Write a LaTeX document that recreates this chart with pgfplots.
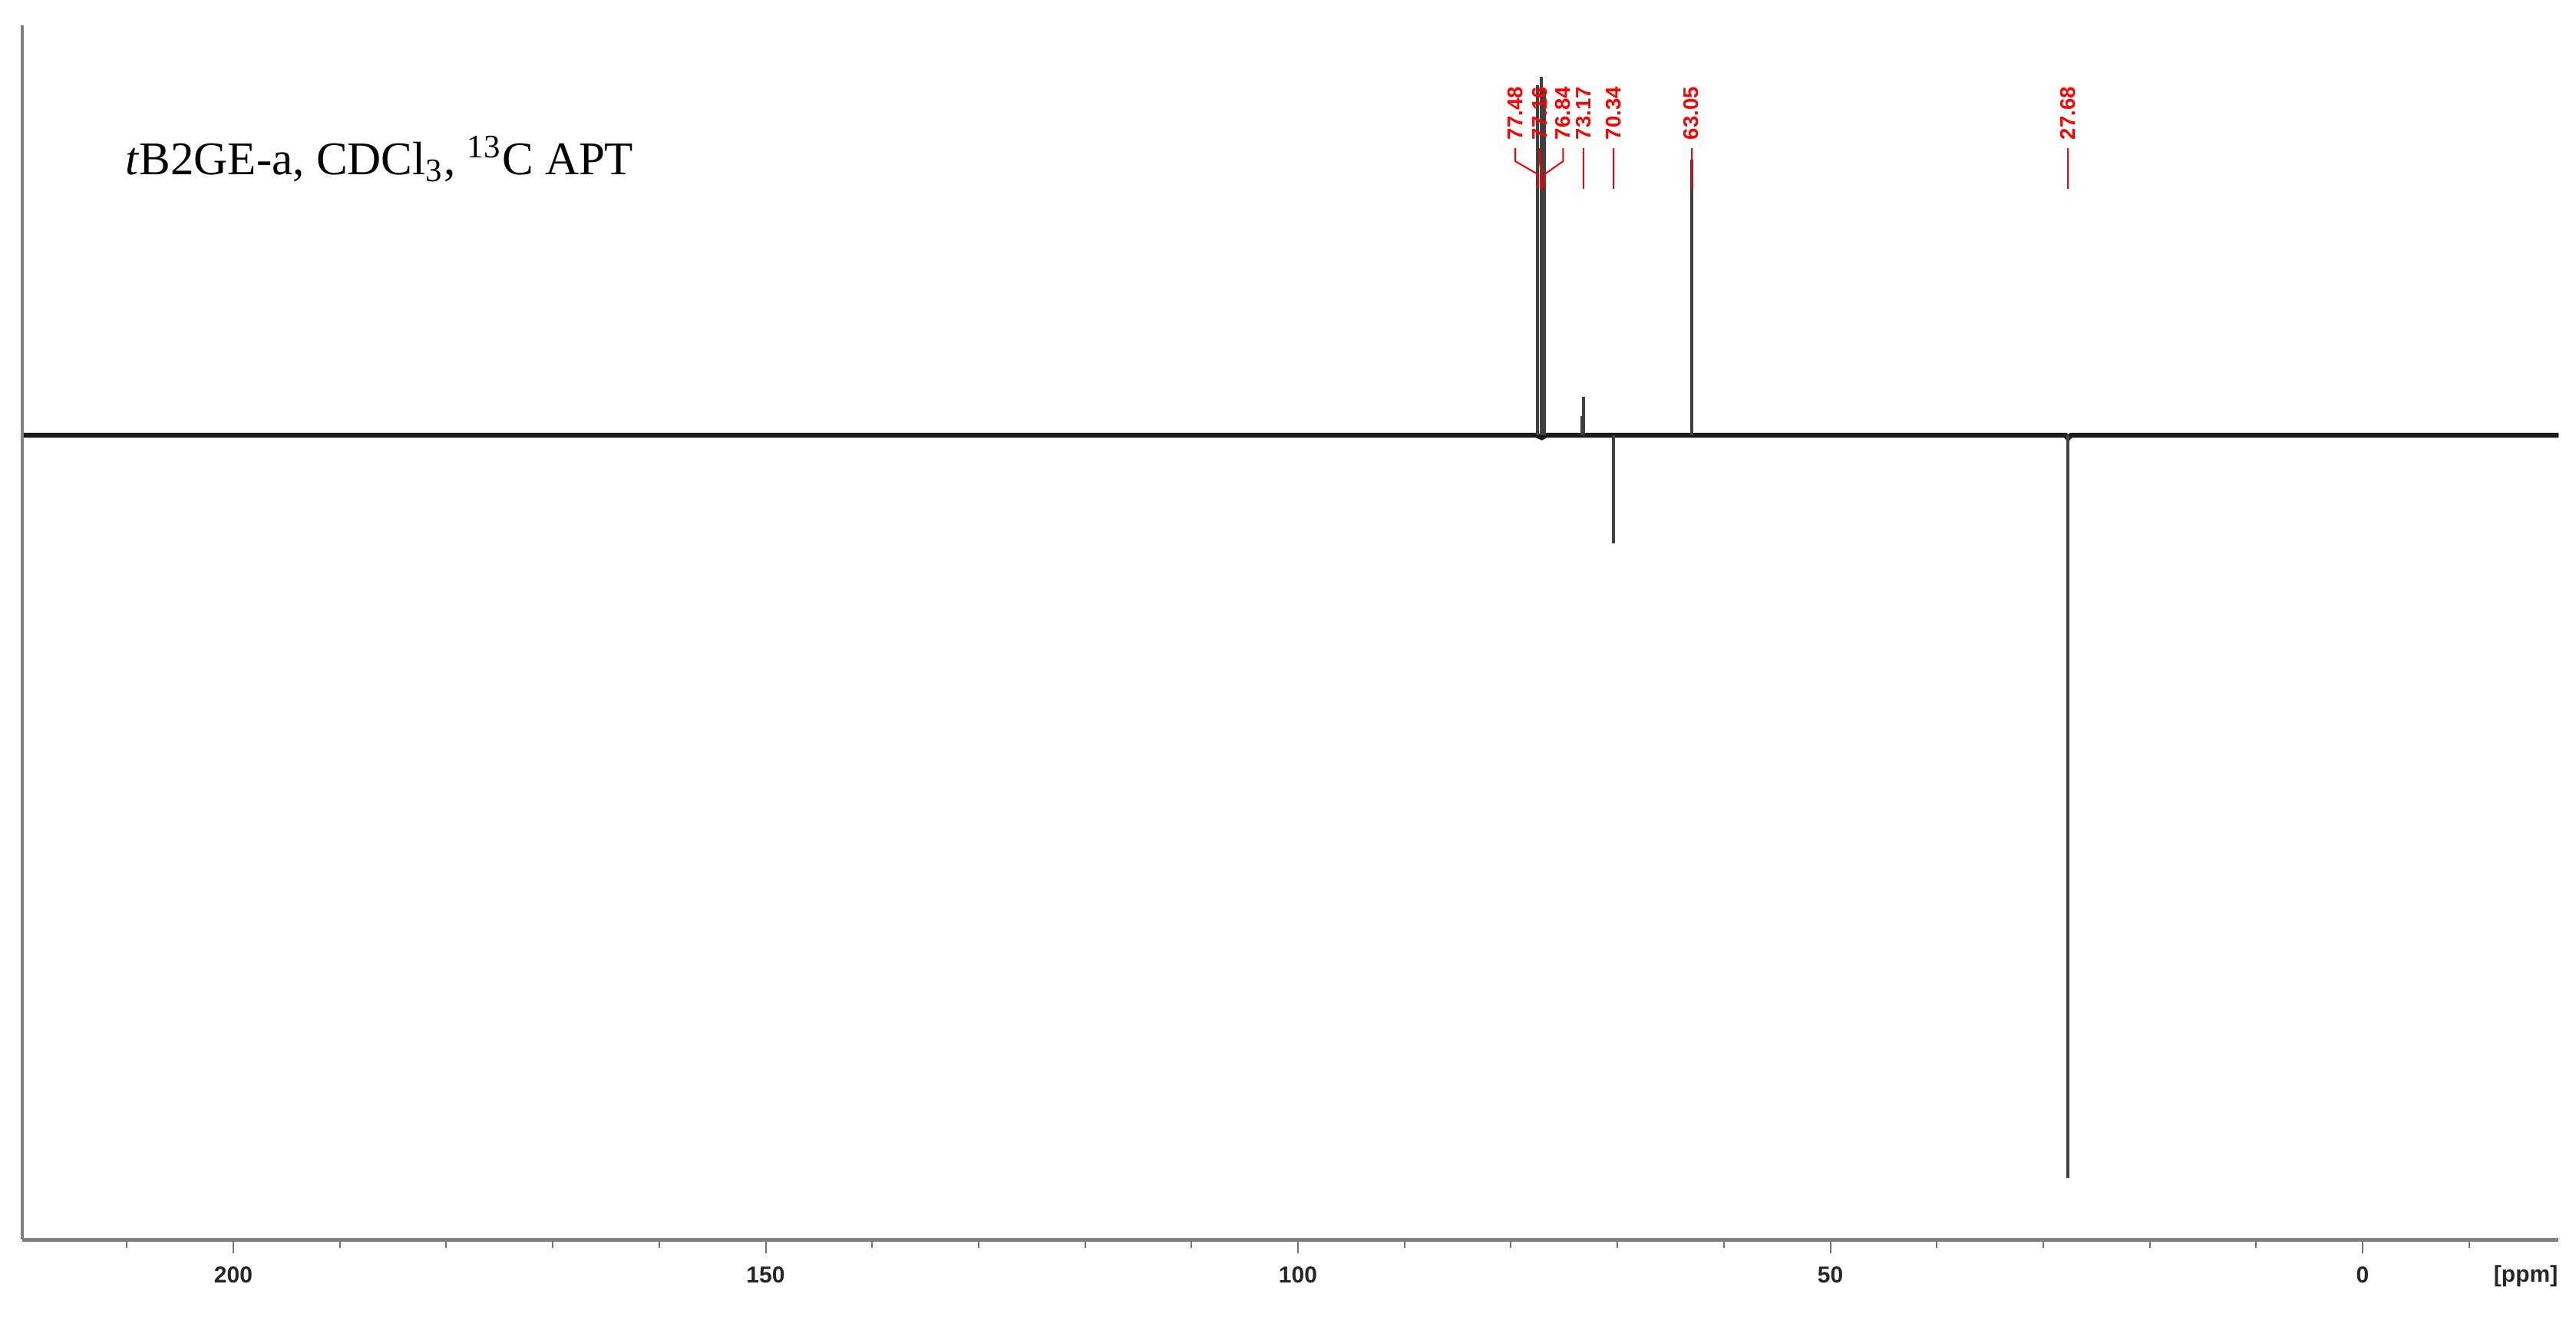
\documentclass[border=0pt]{standalone}
\usepackage{fontspec}
\setmainfont{Liberation Serif}
\setsansfont{Liberation Sans}
\usepackage{pgfplots}
\pgfplotsset{compat=1.18}

% peak positions (ppm) and intensities (baseline = 0)
\pgfplotstableread{
ppm    int
77.48  456
77.16  467
76.84  450
73.30  25
73.17  50
70.34  -141
63.05  359
27.68  -968
}\peaks

\tikzset{
    lab/.style={rotate=90, anchor=west, inner sep=0pt, text=red,
                font=\sffamily\bfseries\fontsize{5.5}{6}\selectfont},
    ln/.style={red, line width=0.4pt},
}

\begin{document}
\begin{tikzpicture}
\begin{axis}[
    scale only axis,
    width=660.6pt,
    height=316.4pt,
    x dir=reverse,
    xmin=-18.4, xmax=219.8,
    ymin=-1048, ymax=534,
    axis line style={draw=none},
    ytick=\empty,
    xtick={0,50,100,150,200},
    minor xtick={-10,10,20,30,40,60,70,80,90,110,120,130,140,160,170,180,190,210},
    xtick pos=lower,
    tick align=outside,
    major tick length=3.6pt,
    minor tick length=2.2pt,
    every tick/.style={black!55, line width=0.4pt},
    tick label style={font=\sffamily\bfseries\fontsize{6}{7}\selectfont, text=black!85},
    xticklabel style={yshift=0.2pt},
    /pgf/number format/assume math mode=true,
    clip=false,
]
% baseline
\addplot[black!90, line width=1.3pt] coordinates {(219.8,0) (77.6,0) (77.1,-3) (76.7,0) (27.9,0) (27.68,-4) (27.4,0) (-18.4,0)};
% peaks
\addplot[ycomb, black!75, line width=0.8pt, mark=none] table[x=ppm, y=int] {\peaks};

% axis lines
\draw[black!50, line width=1pt] (axis description cs:0,0) -- (axis description cs:1,0);
\draw[black!50, line width=0.8pt] (axis description cs:0,0) -- (axis description cs:0,1);

% title
\node[anchor=base west, inner sep=0pt, font=\fontsize{12.2}{14}\selectfont]
    at (axis cs:210.2,340) {\textit{t}B2GE-a, CDCl\textsubscript{3}, \textsuperscript{13}C APT};

% unit
\node[anchor=base east, inner sep=0pt, font=\sffamily\bfseries\fontsize{6}{7}\selectfont, text=black!85]
    at (axis description cs:1,0) [yshift=-11pt] {[ppm]};

% peak labels
\node[lab] at (axis cs:79.6,384) {77.48};
\node[lab] at (axis cs:77.3,384) {77.16};
\node[lab] at (axis cs:75.1,384) {76.84};
\node[lab] at (axis cs:73.17,384) {73.17};
\node[lab] at (axis cs:70.34,384) {70.34};
\node[lab] at (axis cs:63.05,384) {63.05};
\node[lab] at (axis cs:27.68,384) {27.68};
\draw[ln] (axis cs:79.6,374) -- (axis cs:79.6,357) -- (axis cs:77.48,340) -- (axis cs:77.48,321);
\draw[ln] (axis cs:77.3,374) -- (axis cs:77.3,357) -- (axis cs:77.16,340) -- (axis cs:77.16,321);
\draw[ln] (axis cs:75.1,374) -- (axis cs:75.1,357) -- (axis cs:76.84,340) -- (axis cs:76.84,321);
\draw[ln] (axis cs:73.17,374) -- (axis cs:73.17,321);
\draw[ln] (axis cs:70.34,374) -- (axis cs:70.34,321);
\draw[ln] (axis cs:63.05,374) -- (axis cs:63.05,321);
\draw[ln] (axis cs:27.68,374) -- (axis cs:27.68,321);

\coordinate (bbl) at (axis cs:221.92,-1148);
\coordinate (btr) at (axis cs:-20.04,567);
\end{axis}
\pgfresetboundingbox
\path[use as bounding box] (bbl) rectangle (btr);
\end{tikzpicture}
\end{document}
